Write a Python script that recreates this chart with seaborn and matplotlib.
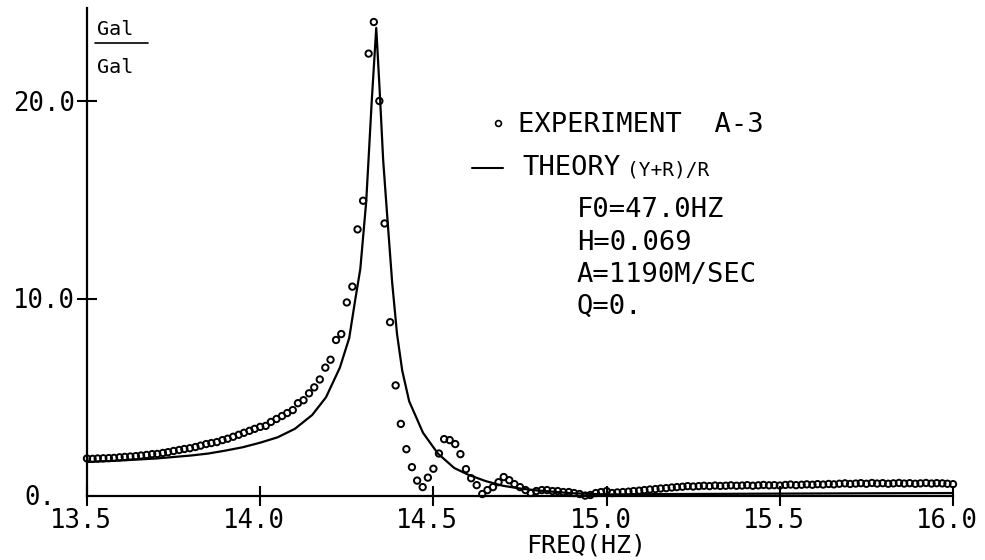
import numpy as np
import pandas as pd
import matplotlib
matplotlib.use("Agg")
import matplotlib.pyplot as plt
import matplotlib.transforms as mtrans
from matplotlib.lines import Line2D
import seaborn as sns

# ---------------- data ----------------
freq = [
    13.500, 13.516, 13.531, 13.547, 13.563, 13.578, 13.594, 13.609, 13.625, 13.641, 13.656, 13.672, 13.688, 13.703, 13.719, 13.734,
    13.750, 13.766, 13.781, 13.797, 13.813, 13.828, 13.844, 13.859, 13.875, 13.891, 13.906, 13.922, 13.938, 13.953, 13.969, 13.984,
    14.000, 14.016, 14.031, 14.047, 14.063, 14.078, 14.094, 14.109, 14.125, 14.141, 14.156, 14.172, 14.188, 14.203, 14.219, 14.234,
    14.250, 14.266, 14.281, 14.297, 14.313, 14.328, 14.344, 14.359, 14.375, 14.391, 14.406, 14.422, 14.438, 14.453, 14.469, 14.484,
    14.500, 14.516, 14.531, 14.547, 14.563, 14.578, 14.594, 14.609, 14.625, 14.641, 14.656, 14.672, 14.688, 14.703, 14.719, 14.734,
    14.750, 14.766, 14.781, 14.797, 14.813, 14.828, 14.844, 14.859, 14.875, 14.891, 14.906, 14.922, 14.938, 14.953, 14.969, 14.984,
    15.000, 15.016, 15.031, 15.047, 15.063, 15.078, 15.094, 15.109, 15.125, 15.141, 15.156, 15.172, 15.188, 15.203, 15.219, 15.234,
    15.250, 15.266, 15.281, 15.297, 15.313, 15.328, 15.344, 15.359, 15.375, 15.391, 15.406, 15.422, 15.438, 15.453, 15.469, 15.484,
    15.500, 15.516, 15.531, 15.547, 15.563, 15.578, 15.594, 15.609, 15.625, 15.641, 15.656, 15.672, 15.688, 15.703, 15.719, 15.734,
    15.750, 15.766, 15.781, 15.797, 15.813, 15.828, 15.844, 15.859, 15.875, 15.891, 15.906, 15.922, 15.938, 15.953, 15.969, 15.984,
    16.000,
]
exp_gain = [
    1.90, 1.88, 1.90, 1.91, 1.92, 1.93, 1.96, 1.98, 2.00, 2.02, 2.05, 2.08, 2.12, 2.13, 2.18, 2.22,
    2.28, 2.33, 2.38, 2.42, 2.48, 2.55, 2.63, 2.68, 2.73, 2.83, 2.90, 3.00, 3.10, 3.20, 3.30, 3.40,
    3.50, 3.55, 3.75, 3.90, 4.05, 4.20, 4.35, 4.70, 4.85, 5.20, 5.50, 5.90, 6.50, 6.90, 7.90, 8.20,
    9.80, 10.60, 13.50, 14.95, 22.40, 24.00, 20.00, 13.80, 8.80, 5.60, 3.65, 2.37, 1.46, 0.78, 0.45, 0.93,
    1.38, 2.15, 2.88, 2.83, 2.63, 2.12, 1.36, 0.90, 0.55, 0.10, 0.30, 0.45, 0.70, 0.96, 0.80, 0.60,
    0.45, 0.30, 0.15, 0.25, 0.30, 0.30, 0.25, 0.25, 0.20, 0.20, 0.15, 0.10, 0.02, 0.05, 0.15, 0.20,
    0.25, 0.15, 0.18, 0.20, 0.22, 0.25, 0.27, 0.30, 0.33, 0.35, 0.38, 0.40, 0.43, 0.45, 0.47, 0.50,
    0.48, 0.50, 0.52, 0.50, 0.53, 0.51, 0.52, 0.54, 0.52, 0.53, 0.55, 0.52, 0.54, 0.56, 0.54, 0.55,
    0.53, 0.56, 0.58, 0.55, 0.57, 0.59, 0.57, 0.60, 0.58, 0.61, 0.59, 0.62, 0.64, 0.61, 0.63, 0.65,
    0.62, 0.66, 0.63, 0.65, 0.62, 0.64, 0.66, 0.63, 0.65, 0.62, 0.64, 0.66, 0.63, 0.65, 0.64, 0.62,
    0.60,
]
theory_freq = [
    13.50, 13.60, 13.70, 13.80, 13.85, 13.90, 13.95, 14.00, 14.05, 14.10, 14.15, 14.19, 14.23,
    14.257, 14.274, 14.289, 14.306, 14.312, 14.322, 14.335, 14.345, 14.355, 14.367, 14.381, 14.395,
    14.41, 14.43, 14.47, 14.513, 14.56, 14.60, 14.65, 14.70, 14.75, 14.80, 14.90, 15.00, 15.20,
    15.50, 15.80, 16.00,
]
theory_gain = [
    1.72, 1.80, 1.90, 2.05, 2.15, 2.30, 2.47, 2.70, 2.97, 3.40, 4.10, 5.00, 6.50,
    8.00, 9.90, 11.50, 14.90, 16.80, 20.00, 23.70, 20.50, 17.00, 14.10, 10.80, 8.20,
    6.35, 4.80, 3.20, 2.15, 1.42, 1.08, 0.76, 0.52, 0.38, 0.28, 0.14, 0.08, 0.10,
    0.12, 0.14, 0.15,
]
x_ticks = [13.5, 14.0, 14.5, 15.0, 15.5, 16.0]
x_tick_labels = ["13.5", "14.0", "14.5", "15.0", "15.5", "16.0"]
y_ticks = [10.0, 20.0]
y_tick_labels = ["10.0", "20.0"]

# ---------------- figure ----------------
sns.set_theme(style="white")
plt.rcParams["font.family"] = ["DejaVu Sans Mono", "DejaVu Sans"]
plt.rcParams["text.color"] = "black"

W, H = 985, 560
fig = plt.figure(figsize=(W / 100, H / 100), dpi=100)
fig.patch.set_facecolor("white")
X0, X1, Y0, Y1 = 87, 953, 496, 8
PX_PER_UNIT = 19.75
ax = fig.add_axes([X0 / W, (H - Y0) / H, (X1 - X0) / W, (Y0 - Y1) / H])
ax.set_facecolor("white")

df_th = pd.DataFrame({"freq": theory_freq, "gain": theory_gain})
df_ex = pd.DataFrame({"freq": freq, "gain": exp_gain})

sns.lineplot(data=df_th, x="freq", y="gain", ax=ax, color="black", linewidth=1.6,
             sort=True, estimator=None, zorder=2)
sns.scatterplot(data=df_ex, x="freq", y="gain", ax=ax, marker="o", s=21,
                color="black", linewidth=1.4, zorder=3, clip_on=False)
pts = ax.collections[-1]
pts.set_facecolor("none")
pts.set_edgecolor("black")

ax.set_xlim(13.5, 16.0)
ax.set_ylim(0, (Y0 - Y1) / PX_PER_UNIT)
ax.set_xlabel("")
ax.set_ylabel("")

for s in ["top", "right"]:
    ax.spines[s].set_visible(False)
for s in ["left", "bottom"]:
    ax.spines[s].set_color("black")
    ax.spines[s].set_linewidth(1.6)

ax.set_xticks(x_ticks)
ax.set_xticklabels(x_tick_labels)
ax.set_yticks(y_ticks)
ax.set_yticklabels(y_tick_labels)
ax.tick_params(axis="both", which="major", direction="inout", length=14, width=1.5,
               colors="black", labelsize=18.5, bottom=True, left=True,
               top=False, right=False)
ax.tick_params(axis="x", pad=2.0)
ax.tick_params(axis="y", pad=1.5)
off = mtrans.ScaledTranslation(-6 / 100, 0, fig.dpi_scale_trans)
for lab in ax.get_xticklabels():
    lab.set_transform(lab.get_transform() + off)


def fx(px):
    return px / W


def fy(py):
    return 1 - py / H


# zero label of the y axis
fig.text(fx(24), fy(505), "0.", fontsize=18.5, ha="left", va="baseline")

# unit label Gal / Gal
fig.text(fx(97), fy(35), "Gal", fontsize=14.5, ha="left", va="baseline")
fig.add_artist(Line2D([fx(95), fx(148)], [fy(43), fy(43)], color="black", lw=1.2))
fig.text(fx(97), fy(73), "Gal", fontsize=14.5, ha="left", va="baseline")

# legend / annotations
fig.add_artist(Line2D([fx(498)], [fy(123)], marker="o", markersize=4.2, mfc="none",
                      mec="black", mew=1.2, linestyle="none"))
fig.text(fx(518), fy(132), "EXPERIMENT  A-3", fontsize=19.5, ha="left", va="baseline")
fig.add_artist(Line2D([fx(472), fx(503)], [fy(168), fy(168)], color="black", lw=1.5))
fig.text(fx(522), fy(175), "THEORY", fontsize=19.5, ha="left", va="baseline")
fig.text(fx(627), fy(175), "(Y+R)/R", fontsize=14, ha="left", va="baseline")
fig.text(fx(577), fy(217), "F0=47.0HZ", fontsize=19.5, ha="left", va="baseline")
fig.text(fx(577), fy(250), "H=0.069", fontsize=19.5, ha="left", va="baseline")
fig.text(fx(577), fy(282), "A=1190M/SEC", fontsize=19.5, ha="left", va="baseline")
fig.text(fx(577), fy(314), "Q=0.", fontsize=19.5, ha="left", va="baseline")

# x axis title
fig.text(fx(586), fy(553), "FREQ(HZ)", fontsize=18, ha="center", va="baseline")

fig.savefig("out.png", dpi=100, facecolor="white")
